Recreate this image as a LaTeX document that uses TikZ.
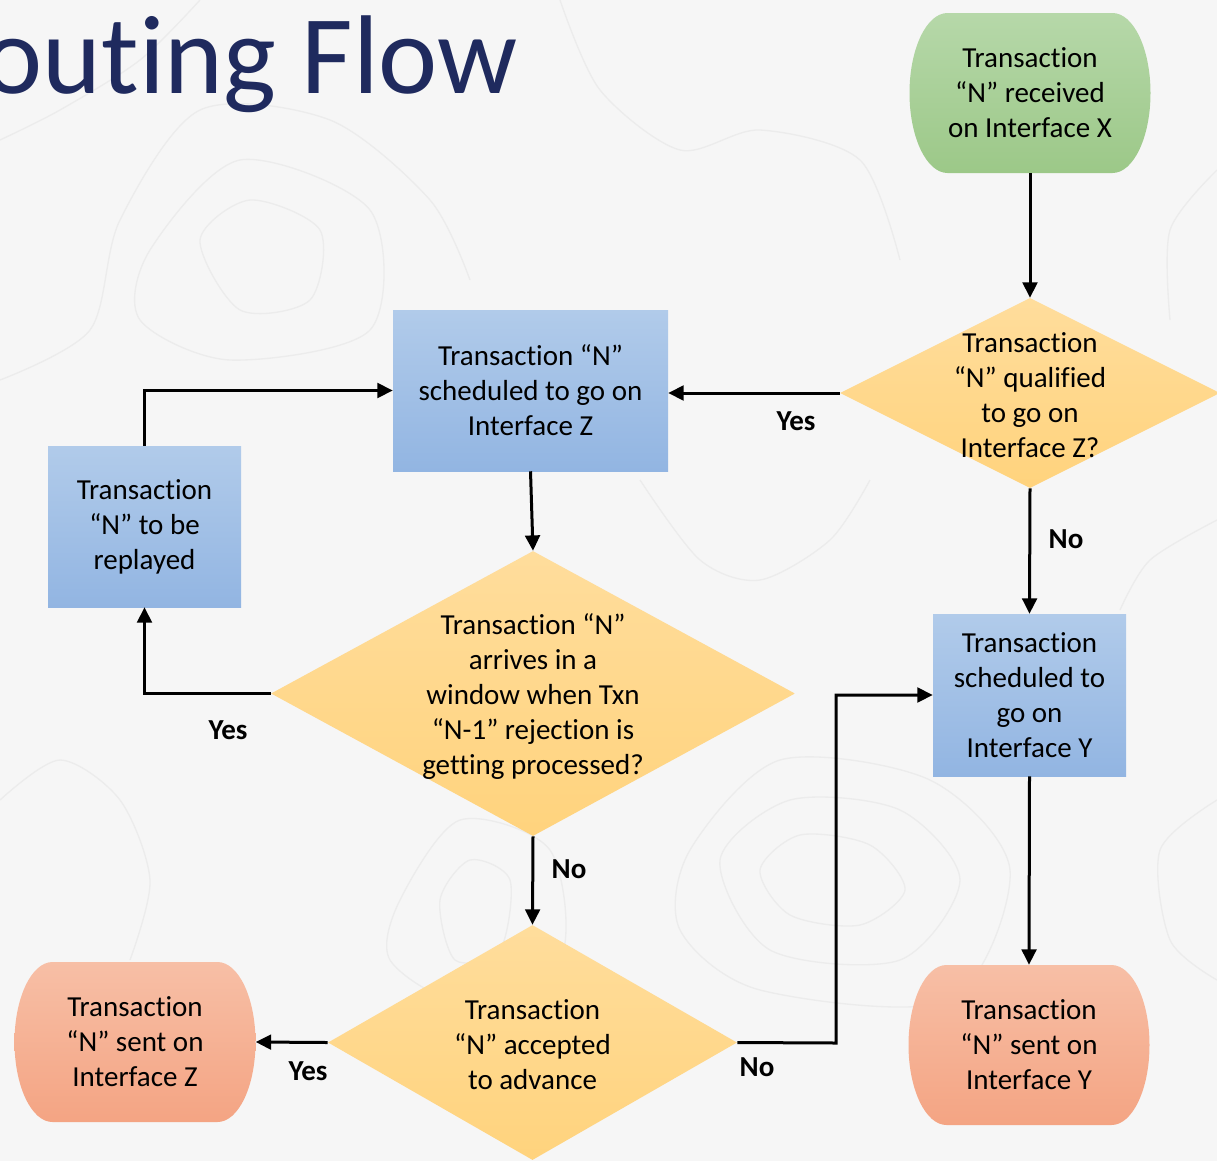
\documentclass[tikz,border=0pt]{standalone}
\usepackage{fontspec}
\setmainfont{Carlito}[Ligatures={TeX,NoCommon,NoContextual,NoRare}]
\usetikzlibrary{shapes.geometric,arrows.meta}

\definecolor{bgcol}{HTML}{F6F6F6}
\definecolor{contour}{HTML}{ECECEC}
\definecolor{titleblue}{HTML}{1F2A5E}
\definecolor{greentop}{HTML}{B6D8A9}
\definecolor{greenbot}{HTML}{9CC888}
\definecolor{bluetop}{HTML}{B1CBEA}
\definecolor{bluebot}{HTML}{92B5E2}
\definecolor{ambertop}{HTML}{FFDD9C}
\definecolor{amberbot}{HTML}{FFD37D}
\definecolor{salmontop}{HTML}{F7BFA6}
\definecolor{salmonbot}{HTML}{F4A483}

\tikzset{
  every node/.style={font=\fontsize{21.75}{26.25}\selectfont, text=black},
  procbox/.style={rectangle, inner sep=0pt, top color=bluetop, bottom color=bluebot, align=center},
  decision/.style={diamond, inner sep=0pt, top color=ambertop, bottom color=amberbot},
  term/.style={rectangle, inner sep=0pt, minimum width=180.75pt, minimum height=120pt, align=center},
  caption/.style={align=center, inner sep=0pt},
  flow/.style={line width=2.25pt, -{Triangle[length=11.5pt,width=11pt]}},
  answer/.style={font=\fontsize{21.75}{26.25}\selectfont\bfseries},
  contourline/.style={draw=contour, line width=1pt}
}

% terminal shape: flat top and bottom, half-ellipse ends
% #1 centre, #2 top colour, #3 bottom colour
\newcommand\termshape[3]{%
  \shade[top color=#2, bottom color=#3] #1 ++(-61.875pt,60pt) -- ++(123.75pt,0pt)
    arc[start angle=90, end angle=-90, x radius=28.5pt, y radius=60pt]
    -- ++(-123.75pt,0pt)
    arc[start angle=270, end angle=90, x radius=28.5pt, y radius=60pt] -- cycle;%
}

\begin{document}
\begin{tikzpicture}[x=0.75pt, y=-0.75pt]
  % page and background
  \useasboundingbox (0,0) rectangle (1217,1161);
  \fill[bgcol] (0,0) rectangle (1217,1161);

  % faint topographic texture
  \begin{scope}[contourline]
    \draw plot[smooth cycle] coordinates {(760,870) (800,835) (870,845) (905,890) (860,925) (790,915)};
    \draw plot[smooth cycle] coordinates {(720,860) (790,800) (900,810) (960,880) (900,960) (770,950)};
    \draw plot[smooth cycle] coordinates {(690,850) (780,760) (930,780) (1010,870) (950,1000) (760,990) (680,930)};
    \draw plot[smooth cycle] coordinates {(200,240) (250,200) (320,230) (310,300) (240,310)};
    \draw plot[smooth cycle] coordinates {(150,250) (240,160) (370,210) (370,330) (230,360) (140,320)};
    \draw plot[smooth] coordinates {(0,380) (90,330) (120,220) (200,110) (330,120) (430,200) (470,280)};
    \draw plot[smooth] coordinates {(0,140) (60,110) (140,60) (200,0)};
    \draw plot[smooth cycle] coordinates {(440,900) (470,860) (510,880) (500,950) (455,960)};
    \draw plot[smooth cycle] coordinates {(400,900) (460,820) (550,850) (560,960) (460,1000) (390,960)};
    \draw plot[smooth] coordinates {(560,0) (600,90) (680,150) (760,130) (860,160) (900,260)};
    \draw plot[smooth] coordinates {(1217,170) (1170,230) (1170,320)};
    \draw plot[smooth] coordinates {(1217,520) (1150,560) (1120,610)};
    \draw plot[smooth] coordinates {(0,800) (60,760) (120,800) (150,880) (130,960)};
    \draw plot[smooth] coordinates {(640,480) (700,560) (760,580) (830,540) (870,480)};
    \draw plot[smooth] coordinates {(1217,800) (1160,850) (1170,940) (1217,980)};
  \end{scope}

  % title, running off the left edge of the page
  \node[anchor=base east, inner sep=0pt, font=\fontsize{84}{96}\selectfont, text=titleblue]
    (title) at (518,93) {outing Flow};

  % terminals
  \termshape{(1030,93)}{greentop}{greenbot}
  \node[term] (start) at (1030,93) {Transaction\\“N” received\\on Interface X};

  \termshape{(135,1042)}{salmontop}{salmonbot}
  \node[term] (sentZ) at (135,1042) {Transaction\\“N” sent on\\Interface Z};

  \termshape{(1029,1045)}{salmontop}{salmonbot}
  \node[term] (sentY) at (1029,1045) {Transaction\\“N” sent on\\Interface Y};

  % process boxes
  \node[procbox, minimum width=206.25pt, minimum height=120.75pt] (schedZ) at (530.5,390.5)
    {Transaction “N”\\scheduled to go on\\Interface Z};
  \node[procbox, minimum width=144.75pt, minimum height=120.75pt] (replay) at (144.5,526.5)
    {Transaction\\“N” to be\\replayed};
  \node[procbox, minimum width=144.75pt, minimum height=121.5pt] (schedY) at (1029.5,695)
    {Transaction\\scheduled to\\go on\\Interface Y};

  % decisions
  \node[decision, minimum width=285pt, minimum height=142.5pt] (askZ) at (1030,393) {};
  \node[caption] (askZ-text) at (1030,395) {Transaction\\“N” qualified\\to go on\\Interface Z?};

  \node[decision, minimum width=393pt, minimum height=213.75pt] (window) at (533,693.5) {};
  \node[caption] (window-text) at (533,696.5)
    {Transaction “N”\\arrives in a\\window when Txn\\“N-1” rejection is\\getting processed?};

  \node[decision, minimum width=306.75pt, minimum height=176.25pt] (accept) at (532.5,1042.5) {};
  \node[caption] (accept-text) at (532.5,1045) {Transaction\\“N” accepted\\to advance};

  % connectors
  \coordinate (elbow) at (836,1043);
  \draw[flow] (start.south) -- (askZ.north);
  \draw[flow] (askZ.west) -- (askZ.west -| schedZ.east);
  \draw[flow] (askZ.south) -- (schedY.north);
  \draw[flow] (schedZ.south) -- (window.north);
  \draw[flow] (window.west) -| (replay.south);
  \draw[flow] (replay.north) |- (schedZ.west);
  \draw[flow] (window.south) -- (accept.north);
  \draw[flow] (accept.west) -- (sentZ.east);
  \draw[flow] (accept.east) -- (elbow) |- (schedY.west);
  \draw[flow] (schedY.south) -- (sentY.north);

  % branch labels
  \node[answer] (yes1) at (796,421) {Yes};
  \node[answer] (no1) at (1066,539) {No};
  \node[answer] (yes2) at (228,730) {Yes};
  \node[answer] (no2) at (569,869) {No};
  \node[answer] (yes3) at (308,1071) {Yes};
  \node[answer] (no3) at (757,1067) {No};
\end{tikzpicture}
\end{document}
